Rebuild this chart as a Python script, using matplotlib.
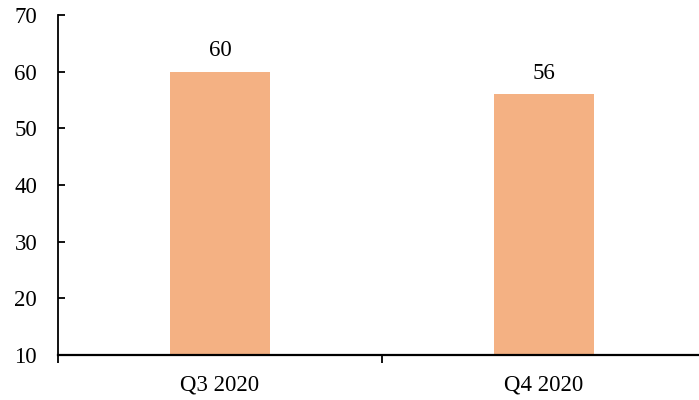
import matplotlib.pyplot as plt
import numpy as np

quarters = ['Q3 2020', 'Q4 2020']
values = [60, 56]

plt.rcParams['font.family'] = ['Liberation Serif', 'DejaVu Serif']

fig = plt.figure(figsize=(6.99, 4), dpi=100)
ax = fig.add_axes([58/699, 1-355/400, 648/699, 340/400])

x = np.arange(len(quarters))
bars = ax.bar(x, values, width=0.31, color='#F4B183', zorder=2)
for xi, v in zip(x, values):
    ax.text(xi, v + 1.9, str(v), ha='center', va='bottom', fontsize=16.5)

ax.set_xlim(-0.5, len(quarters) - 0.5)
ax.set_ylim(10, 70)
ax.set_yticks(np.arange(10, 71, 10))
ax.set_xticks(x)
ax.set_xticklabels(quarters)
ax.set_xticks(np.arange(-0.5, len(quarters)), minor=True)

ax.tick_params(axis='y', direction='in', length=5, width=1.3, pad=15, labelsize=16.5)
ax.tick_params(axis='x', which='major', length=0, pad=14, labelsize=16.5)
ax.tick_params(axis='x', which='minor', direction='out', length=6, width=1.3)

for s in ['top', 'right']:
    ax.spines[s].set_visible(False)
ax.spines['left'].set_linewidth(1.3)
ax.spines['bottom'].set_linewidth(1.6)

fig.savefig('out.png', dpi=100)
